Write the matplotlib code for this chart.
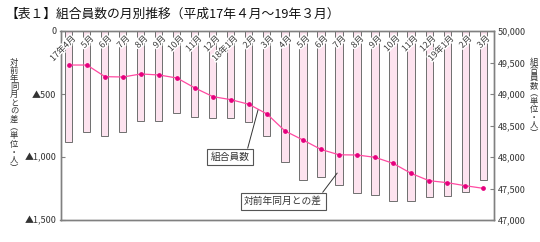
import matplotlib
matplotlib.use("Agg")
import matplotlib.pyplot as plt
import matplotlib.patheffects as pe
from matplotlib.transforms import blended_transform_factory

plt.rcParams['font.family'] = ['Noto Sans CJK JP', 'DejaVu Sans']

months = ["17年4月", "5月", "6月", "7月", "8月", "9月", "10月", "11月", "12月",
          "18年1月", "2月", "3月", "4月", "5月", "6月", "7月", "8月", "9月",
          "10月", "11月", "12月", "19年1月", "2月", "3月"]
diff = [-884, -804, -834, -800, -712, -712, -654, -683, -688, -693, -725, -834,
        -1038, -1183, -1157, -1223, -1289, -1302, -1350, -1350, -1315, -1310, -1280, -1183]
members = [49460, 49460, 49275, 49270, 49318, 49302, 49254, 49095, 48958, 48910,
           48836, 48683, 48413, 48270, 48120, 48035, 48032, 47995, 47900, 47741,
           47624, 47593, 47545, 47503]
left_ticks = [0, -500, -1000, -1500]
left_ticklabels = ["0", "▲500", "▲1,000", "▲1,500"]
right_ticks = [47000, 47500, 48000, 48500, 49000, 49500, 50000]
right_ticklabels = ["47,000", "47,500", "48,000", "48,500", "49,000", "49,500", "50,000"]

W, H = 540, 242
fig = plt.figure(figsize=(W / 100, H / 100), dpi=100)
ax = fig.add_axes([60.5 / W, (H - 220) / H, (494 - 60.5) / W, (220 - 31) / H])
ax2 = ax.twinx()

x = list(range(len(months)))
ax.bar(x, diff, width=0.39, color='#fde3ef', edgecolor='#6e6e6e', linewidth=0.7, zorder=2)
ax.set_xlim(-0.47, 23.61)
ax.set_ylim(-1500, 0)
ax.set_yticks(left_ticks)
ax.set_yticklabels(left_ticklabels)
ax.set_xticks([])

ax2.plot(x, members, color='#ff4aa2', linewidth=0.9, marker='o', markersize=2.4,
         markerfacecolor='#e6007e', markeredgecolor='#e6007e', zorder=3)
ax2.set_ylim(47000, 50000)
ax2.set_yticks(right_ticks)
ax2.set_yticklabels(right_ticklabels)

for a in (ax, ax2):
    for s in a.spines.values():
        s.set_color('#808080')
        s.set_linewidth(1.0)
    a.tick_params(axis='y', direction='in', length=3, width=0.8, color='#808080',
                  labelsize=6.5, labelcolor='#333333', pad=3)

# month labels
trans = blended_transform_factory(ax2.transData, ax2.transAxes)
for i, m in enumerate(months):
    ax2.text(i + 0.12, 1 - 3 / 189, m, transform=trans, rotation=45,
             rotation_mode='anchor', ha='right', va='top', fontsize=6.3,
             color='#333333', zorder=5,
             path_effects=[pe.withStroke(linewidth=2.2, foreground='white')])

# title
fig.text(5 / W, 1 - 14 / H, "【表１】組合員数の月別推移（平成17年４月～19年３月）",
         fontsize=9.2, ha='left', va='center', color='#111111')

# vertical axis labels
left_label = ["対", "前", "年", "同", "月", "と", "の", "差", "︵", "単", "位", "・", "人", "︶"]
for k, ch in enumerate(left_label):
    fig.text(14 / W, 1 - (62 + 8.2 * k) / H, ch, fontsize=6.0, ha='center', va='center',
             color='#333333')
right_label = ["組", "合", "員", "数", "︵", "単", "位", "・", "人", "︶"]
for k, ch in enumerate(right_label):
    fig.text(534 / W, 1 - (62 + 7.9 * k) / H, ch, fontsize=6.0, ha='center', va='center',
             color='#333333')

# callouts
ax2.annotate("組合員数", xy=(10.5, 48746), xytext=(8.94, 48000), textcoords='data',
             fontsize=7, ha='center', va='center', color='#333333', zorder=6,
             bbox=dict(boxstyle='square,pad=0.35', fc='white', ec='#555555', lw=0.8),
             arrowprops=dict(arrowstyle='-', color='#333333', lw=0.7, relpos=(0.93, 1.0),
                             shrinkA=0, shrinkB=0))
ax2.annotate("対前年同月との差", xy=(14.9, 47745), xytext=(11.9, 47300), textcoords='data',
             fontsize=7, ha='center', va='center', color='#333333', zorder=6,
             bbox=dict(boxstyle='square,pad=0.35', fc='white', ec='#555555', lw=0.8),
             arrowprops=dict(arrowstyle='-', color='#333333', lw=0.7, relpos=(0.97, 1.0),
                             shrinkA=0, shrinkB=0))

fig.savefig("out.png", dpi=100)
